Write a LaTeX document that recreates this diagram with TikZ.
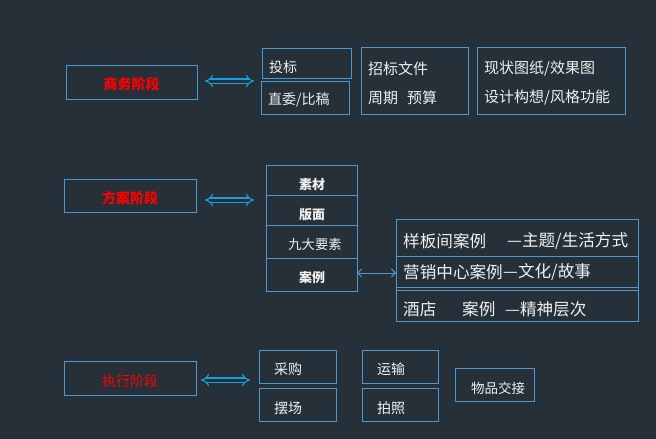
\documentclass[tikz,border=0pt]{standalone}
\usepackage{fontspec}
\setmainfont{Noto Sans CJK SC}
\usetikzlibrary{arrows.meta}
\definecolor{bg}{RGB}{38,48,56}
\definecolor{edge}{RGB}{80,150,208}
\definecolor{arr}{RGB}{22,160,220}
\definecolor{txt}{RGB}{240,240,240}
\tikzset{
  box/.style={draw=edge, line width=1pt},
  lbl/.style={text=txt, inner sep=0pt, anchor=west, font=\fontsize{15}{15}\selectfont},
  lbls/.style={text=txt, inner sep=0pt, anchor=west, font=\fontsize{14}{14}\selectfont},
  lblc/.style={text=txt, inner sep=0pt, anchor=west, font=\fontsize{16.6}{16.6}\selectfont},
  stagelbl/.style={text=red, inner sep=0pt, font=\fontsize{14}{14}\selectfont\bfseries},
  stacklbl/.style={text=txt, inner sep=0pt, font=\fontsize{13}{13}\selectfont\bfseries},
  dblarrow/.style={draw=arr, double=bg, double distance=3pt, line width=1.1pt, {Implies}-{Implies}},
  thinarrow/.style={draw=edge, line width=0.9pt, {Straight Barb[length=4pt,width=8pt]}-{Straight Barb[length=4pt,width=8pt]}},
}
\begin{document}
\begin{tikzpicture}[x=1pt,y=-1pt]
\fill[bg] (0,0) rectangle (656,439);
\useasboundingbox (0,0) rectangle (656,439);

% ---------- stage 1
\draw[box] (66,65) rectangle (197,99);
\node[stagelbl] (s1) at (131.5,84) {商务阶段};
\coordinate (a1l) at (205,81);
\coordinate (a1r) at (254,81);
\draw[dblarrow] (a1l) -- (a1r);

\draw[box] (262,48) rectangle (351,78);
\node[lbls] (tb) at (269,67) {投标};
\draw[box] (261,81) rectangle (349,114);
\node[lbls] (zw) at (268,100) {直委/比稿};

\draw[box] (361,47) rectangle (468,114);
\node[lbl] (zbwj) at (368,69) {招标文件};
\node[lbl] (zq) at (368,98) {周期};
\node[lbl] (ys) at (407,98) {预算};

\draw[box] (477,47) rectangle (625,114);
\node[lbl] (xz) at (484,69) {现状图纸/效果图};
\node[lbl] (sj) at (484,98) {设计构想/风格功能};

% ---------- stage 2
\draw[box] (64,179) rectangle (196,212);
\node[stagelbl] (s2) at (130,198) {方案阶段};
\coordinate (a2l) at (205,200);
\coordinate (a2r) at (254,200);
\draw[dblarrow] (a2l) -- (a2r);

\draw[box] (266,165) rectangle (357,291);
\draw[box] (266,195) -- (357,195);
\draw[box] (266,225) -- (357,225);
\draw[box] (266,258) -- (357,258);
\node[stacklbl] (sc) at (312,185) {素材};
\node[stacklbl] (bm) at (312,215) {版面};
\node[text=txt, inner sep=0pt, font=\fontsize{13.3}{13.3}\selectfont] (jd) at (315,244) {九大要素};
\node[stacklbl] (al) at (312,277) {案例};
\coordinate (stackR) at (357,273);
\coordinate (caseL) at (396,273);
\draw[thinarrow] (stackR) -- (caseL);

\draw[box] (396,219) rectangle (638,321);
\draw[box] (396,256) -- (638,256);
\draw[box] (396,287) -- (638,287);
\draw[box] (396,290) -- (638,290);
\node[lblc] (c1a) at (403,241) {样板间案例};
\node[lblc] (c1b) at (507,241) {—主题/生活方式};
\node[lblc] (c2a) at (403,272) {营销中心案例};
\node[lblc] (c2b) at (503,272) {—文化/故事};
\node[lblc] (c3a) at (403,309) {酒店};
\node[lblc] (c3b) at (462,309) {案例};
\node[lblc] (c3c) at (505,309) {—精神层次};

% ---------- stage 3
\draw[box] (64,361) rectangle (196,395);
\node[text=red, inner sep=0pt, font=\fontsize{14}{14}\selectfont] (s3) at (130,381) {执行阶段};
\coordinate (a3l) at (201,380);
\coordinate (a3r) at (250,380);
\draw[dblarrow] (a3l) -- (a3r);

\draw[box] (259,350) rectangle (336,383);
\node[lbls] (cg) at (274,369) {采购};
\draw[box] (259,388) rectangle (336,421);
\node[lbls] (bc) at (274,408) {摆场};
\draw[box] (362,350) rectangle (438,383);
\node[lbls] (ysh) at (377,369) {运输};
\draw[box] (362,388) rectangle (438,421);
\node[lbls] (pz) at (377,408) {拍照};
\draw[box] (455,368) rectangle (534,401);
\node[lbls, font=\fontsize{13.5}{13.5}\selectfont] (wp) at (471,388) {物品交接};
\end{tikzpicture}
\end{document}
